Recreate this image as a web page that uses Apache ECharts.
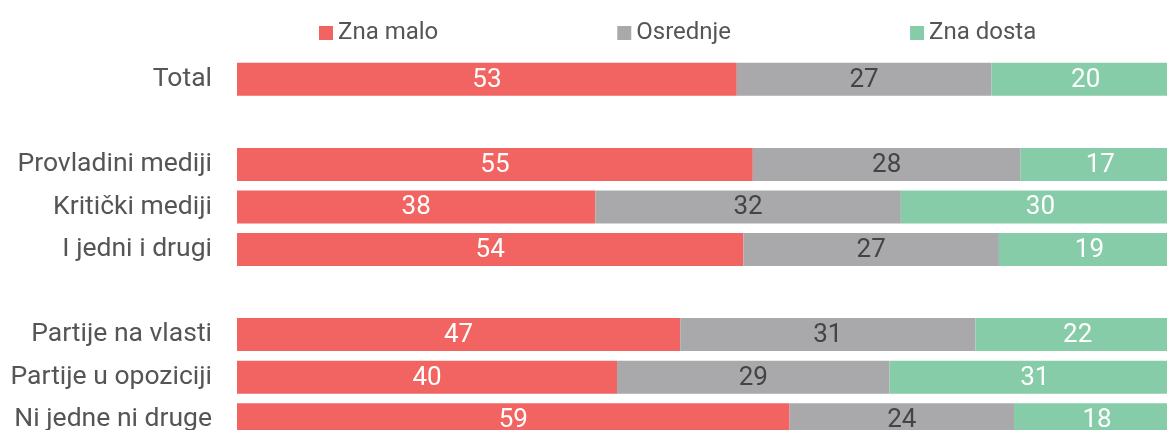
<!DOCTYPE html>
<html>
<head>
<meta charset="utf-8">
<script src="https://cdn.jsdelivr.net/npm/echarts@6/dist/echarts.min.js"></script>
<style>
  html, body { margin: 0; padding: 0; background: #fff; }
  #main { width: 1167px; height: 430px; }
</style>
</head>
<body>
<div id="main"></div>
<script>
// empty strings are the gaps between groups
var categories = ['Total', '', 'Provladini mediji', 'Kritički mediji', 'I jedni i drugi', '', 'Partije na vlasti', 'Partije u opoziciji', 'Ni jedne ni druge'];
var seriesNames = ['Zna malo', 'Osrednje', 'Zna dosta'];
var znaMalo  = [53.0, '-', 54.7, 38.0, 53.7, '-', 47.0, 40.3, 58.6];
var osrednje = [27.0, '-', 28.4, 32.4, 27.1, '-', 31.3, 28.9, 23.8];
var znaDosta = [20.0, '-', 16.9, 29.6, 19.2, '-', 21.7, 30.8, 17.6];
var colors = ['#f26461', '#a9a9ac', '#87cca8'];

var myChart = echarts.init(document.getElementById('main'));

function makeSeries(name, values, color, labelColor) {
  return {
    name: name,
    type: 'bar',
    stack: 'total',
    barWidth: 33,
    data: values,
    itemStyle: { color: color },
    label: {
      show: true,
      position: 'inside',
      offset: [0, 1],
      color: labelColor,
      fontFamily: 'Roboto',
      fontSize: 26,
      formatter: function (p) { return Math.round(p.value); }
    }
  };
}

var option = {
  animation: false,
  textStyle: { fontFamily: 'Roboto' },
  color: colors,
  legend: {
    left: 314,
    top: 16,
    icon: 'rect',
    itemWidth: 14,
    itemHeight: 14,
    itemGap: 179,
    textStyle: { fontSize: 24, color: '#555' },
    data: seriesNames
  },
  grid: {
    left: 237,
    width: 943,
    top: 58,
    height: 383,
    outerBoundsMode: 'none',
    containLabel: false
  },
  xAxis: {
    type: 'value',
    min: 0,
    max: 100,
    show: false
  },
  yAxis: {
    type: 'category',
    inverse: true,
    data: categories,
    axisLine: { show: false },
    axisTick: { show: false },
    axisLabel: {
      margin: 25,
      fontSize: 26.5,
      color: '#555'
    }
  },
  series: [
    makeSeries(seriesNames[0], znaMalo, colors[0], '#fff'),
    makeSeries(seriesNames[1], osrednje, colors[1], '#444'),
    makeSeries(seriesNames[2], znaDosta, colors[2], '#fff')
  ]
};

myChart.setOption(option);
</script>
</body>
</html>
